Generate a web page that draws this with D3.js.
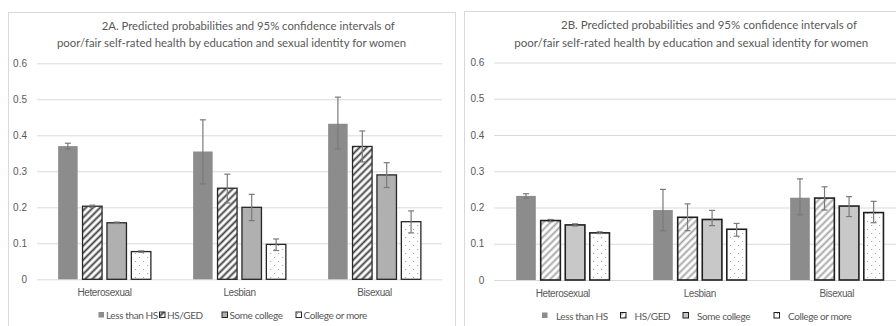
<!DOCTYPE html>
<html>
<head>
<meta charset="utf-8">
<script src="https://cdn.jsdelivr.net/npm/d3@7"></script>
<style>
  html, body { margin: 0; padding: 0; background: #fff; }
  svg { display: block; font-family: Lato, "Open Sans", sans-serif; }
</style>
</head>
<body>
<svg id="chart" width="896" height="326"></svg>
<script>
// Sexual identity groups on the x axis
const categories = ["Heterosexual", "Lesbian", "Bisexual"];
// Education levels, one bar each per group
const seriesNames = ["Less than HS", "HS/GED", "Some college", "College or more"];
// Y axis ticks
const yTickValues = [0, 0.1, 0.2, 0.3, 0.4, 0.5, 0.6];
const yTickLabels = ["0", "0.1", "0.2", "0.3", "0.4", "0.5", "0.6"];

const titleA = [
  "2A. Predicted probabilities and 95% confidence intervals of",
  "poor/fair self-rated health by education and sexual identity for women"
];
const titleB = [
  "2B. Predicted probabilities and 95% confidence intervals of",
  "poor/fair self-rated health by education and sexual identity for women"
];

// 2A: predicted probabilities (rows = identity, columns = education)
const valuesA = [
  [0.370, 0.203, 0.157, 0.077],
  [0.355, 0.253, 0.200, 0.097],
  [0.432, 0.369, 0.290, 0.160]
];
const lowerA = [
  [0.362, 0.200, 0.155, 0.075],
  [0.265, 0.212, 0.163, 0.080],
  [0.362, 0.326, 0.255, 0.129]
];
const upperA = [
  [0.378, 0.206, 0.159, 0.079],
  [0.443, 0.292, 0.236, 0.112],
  [0.506, 0.412, 0.324, 0.190]
];

// 2B: predicted probabilities
const valuesB = [
  [0.232, 0.164, 0.152, 0.130],
  [0.193, 0.173, 0.167, 0.140],
  [0.227, 0.226, 0.204, 0.186]
];
const lowerB = [
  [0.226, 0.161, 0.149, 0.128],
  [0.136, 0.136, 0.150, 0.121],
  [0.180, 0.193, 0.175, 0.158]
];
const upperB = [
  [0.238, 0.167, 0.155, 0.133],
  [0.250, 0.210, 0.192, 0.156],
  [0.279, 0.257, 0.230, 0.217]
];

const svg = d3.select("#chart");
const defs = svg.append("defs");

function makePatterns(id, hatchColor) {
  const h = defs.append("pattern")
    .attr("id", "hatch" + id)
    .attr("patternUnits", "userSpaceOnUse")
    .attr("width", 5).attr("height", 5)
    .attr("patternTransform", "rotate(45)");
  h.append("rect").attr("width", 5).attr("height", 5).attr("fill", "#fff");
  h.append("line").attr("x1", 1.5).attr("y1", 0).attr("x2", 1.5).attr("y2", 5)
    .attr("stroke", hatchColor).attr("stroke-width", 1.9);

  const d = defs.append("pattern")
    .attr("id", "dots" + id)
    .attr("patternUnits", "userSpaceOnUse")
    .attr("width", 8).attr("height", 8);
  d.append("rect").attr("width", 8).attr("height", 8).attr("fill", "#fff");
  d.append("rect").attr("x", 1).attr("y", 1).attr("width", 1).attr("height", 1).attr("fill", "#9a9a9a");
  d.append("rect").attr("x", 5).attr("y", 5).attr("width", 1).attr("height", 1).attr("fill", "#9a9a9a");
}

function drawPanel(cfg) {
  makePatterns(cfg.id, cfg.hatchColor);
  const fills = ["#8c8c8c", `url(#hatch${cfg.id})`, cfg.someFill, `url(#dots${cfg.id})`];
  const strokes = ["none", cfg.outline, cfg.outline, cfg.outline];

  const g = svg.append("g");

  // chart frame
  g.append("rect")
    .attr("x", cfg.frame[0]).attr("y", cfg.frame[1])
    .attr("width", cfg.frame[2]).attr("height", cfg.frame[3])
    .attr("fill", "none").attr("stroke", "#d9d9d9").attr("stroke-width", 1);

  const y = d3.scaleLinear().domain([0, 0.6]).range([cfg.yBottom, cfg.yTop]);
  const x0 = d3.scaleBand().domain(categories).range([cfg.left, cfg.right])
    .paddingInner(cfg.groupPad).paddingOuter(cfg.groupPad / 2);
  const x1 = d3.scaleBand().domain(seriesNames).range([0, x0.bandwidth()])
    .paddingInner(0.2).paddingOuter(0);

  // gridlines + value labels
  const yAxis = g.append("g")
    .attr("transform", `translate(${cfg.left},0)`)
    .call(d3.axisLeft(y).tickValues(yTickValues)
      .tickFormat((d, i) => yTickLabels[i])
      .tickSize(-(cfg.right - cfg.left)).tickPadding(10));
  yAxis.select(".domain").remove();
  yAxis.selectAll(".tick line").attr("stroke", "#d9d9d9").attr("stroke-width", 1);
  yAxis.selectAll(".tick text").attr("fill", "#595959").style("font-size", "10px");

  // bars
  categories.forEach((cat, ci) => {
    const grp = g.append("g").attr("transform", `translate(${x0(cat)},0)`);
    seriesNames.forEach((s, si) => {
      const v = cfg.values[ci][si];
      grp.append("rect")
        .attr("x", x1(s)).attr("y", y(v))
        .attr("width", x1.bandwidth()).attr("height", y(0) - y(v))
        .attr("fill", fills[si])
        .attr("stroke", strokes[si])
        .attr("stroke-width", cfg.outlineWidth);
    });
    // confidence intervals
    seriesNames.forEach((s, si) => {
      const cx = x1(s) + x1.bandwidth() / 2;
      const lo = y(cfg.lower[ci][si]), hi = y(cfg.upper[ci][si]);
      const eb = grp.append("g").attr("stroke", "#7a7a7a").attr("stroke-width", 1.2);
      eb.append("line").attr("x1", cx).attr("x2", cx).attr("y1", lo).attr("y2", hi);
      eb.append("line").attr("x1", cx - 3).attr("x2", cx + 3).attr("y1", lo).attr("y2", lo);
      eb.append("line").attr("x1", cx - 3).attr("x2", cx + 3).attr("y1", hi).attr("y2", hi);
    });
  });

  // category labels
  const xAxis = g.append("g")
    .attr("transform", `translate(0,${cfg.yBottom})`)
    .call(d3.axisBottom(x0).tickSize(0).tickPadding(10));
  xAxis.select(".domain").remove();
  xAxis.selectAll(".tick text").attr("fill", "#595959")
    .style("font-size", "10px").style("letter-spacing", "-0.4px");

  // title
  cfg.title.forEach((line, i) => {
    g.append("text")
      .attr("x", cfg.titlePos[i][0]).attr("y", cfg.titlePos[i][1])
      .attr("textLength", cfg.titlePos[i][2]).attr("lengthAdjust", "spacingAndGlyphs")
      .attr("fill", "#595959").style("font-size", "11.5px")
      .text(line);
  });

  // legend
  seriesNames.forEach((s, si) => {
    const lx = cfg.legendX[si];
    g.append("rect")
      .attr("x", lx).attr("y", cfg.legendY - 7)
      .attr("width", 5.5).attr("height", 5.5)
      .attr("fill", fills[si])
      .attr("stroke", strokes[si]).attr("stroke-width", 1);
    g.append("text")
      .attr("x", lx + cfg.legendGap).attr("y", cfg.legendY)
      .attr("fill", "#595959")
      .style("font-size", "10px").style("letter-spacing", "-0.4px")
      .text(s);
  });
}

drawPanel({
  id: "A",
  frame: [8.5, 12.5, 447, 330],
  left: 37, right: 442, yBottom: 279.3, yTop: 63.3,
  groupPad: 0.313,
  values: valuesA, lower: lowerA, upper: upperA,
  hatchColor: "#404040", someFill: "#b0b0b0", outline: "#262626", outlineWidth: 1.3,
  title: titleA,
  titlePos: [[101.7, 30, 293], [57, 47, 349]],
  legendX: [98.5, 159.5, 222, 296], legendGap: 7.5, legendY: 319
});

drawPanel({
  id: "B",
  frame: [464.5, 11.5, 460, 330],
  left: 494.3, right: 905.3, yBottom: 280, yTop: 62.5,
  groupPad: 0.319,
  values: valuesB, lower: lowerB, upper: upperB,
  hatchColor: "#a6a6a6", someFill: "#c8c8c8", outline: "#1f1f1f", outlineWidth: 1.6,
  title: titleB,
  titlePos: [[561, 29.3, 296], [514.3, 46.7, 354]],
  legendX: [542, 620.5, 683, 774], legendGap: 14, legendY: 319.5
});
</script>
</body>
</html>
